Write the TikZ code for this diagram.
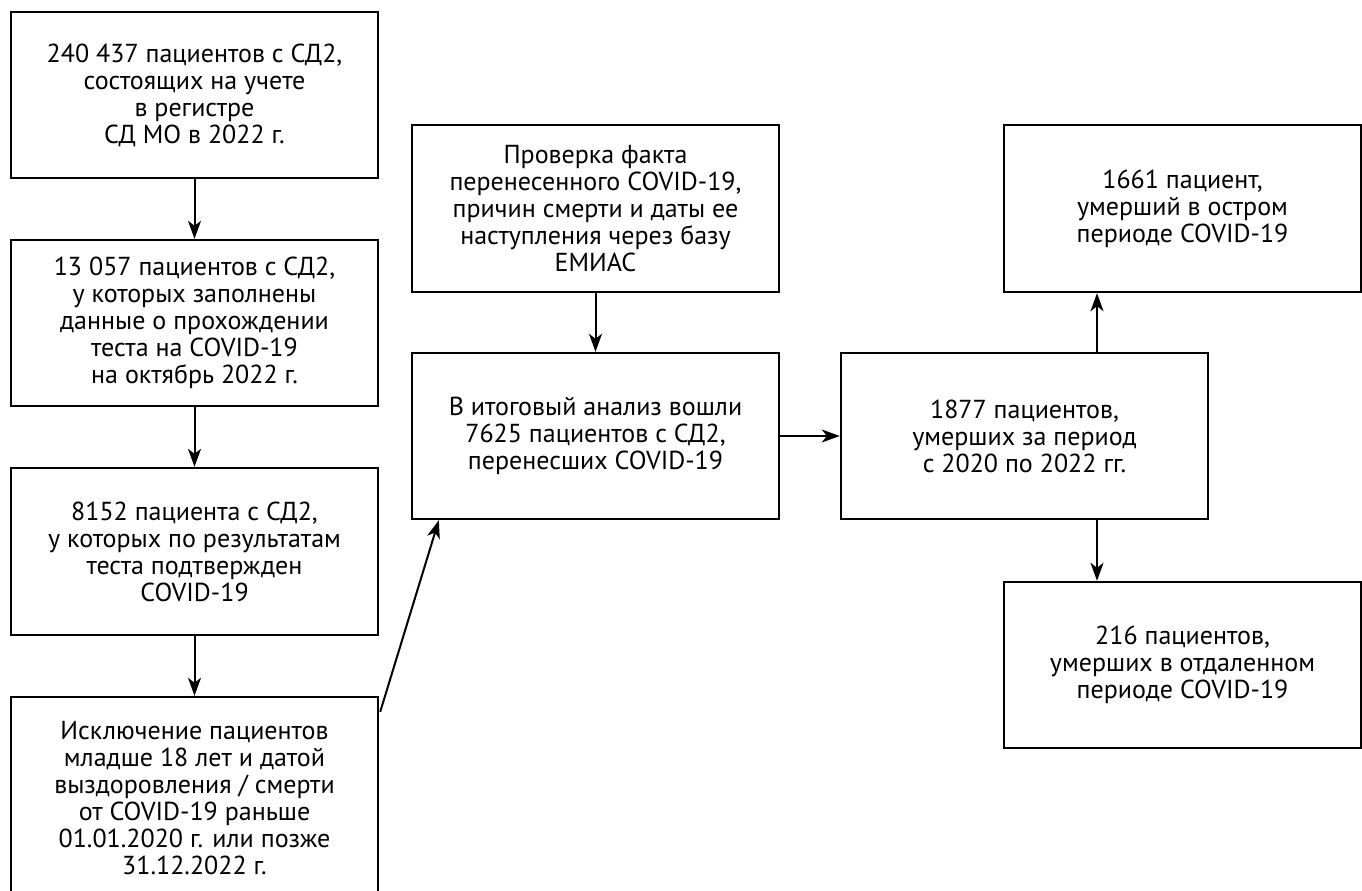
\documentclass[tikz,border=0pt]{standalone}
\usepackage{fontspec}
\setmainfont{PT Sans}
\usetikzlibrary{arrows.meta}
\begin{document}
\begin{tikzpicture}[x=1pt,y=-1pt,
  box/.style={draw, line width=2.4pt, rectangle, align=center, inner sep=0pt,
    font=\fontsize{26}{27}\selectfont},
  wbox/.style={box, minimum width=367pt},
  arr/.style={line width=2pt, -{Stealth[length=18pt,width=13pt,inset=5pt]}}]
\useasboundingbox (0,0) rectangle (1362,891);
\clip (0,0) rectangle (1362,891);
\node[wbox, minimum height=166pt] (A) at (194.5,95)
  {240 437 пациентов с СД2,\\состоящих на учете\\в регистре\\СД МО в 2022 г.};
\node[wbox, minimum height=166pt] (B) at (194.5,323)
  {13 057 пациентов с СД2,\\у которых заполнены\\данные о прохождении\\теста на COVID-19\\на октябрь 2022 г.};
\node[wbox, minimum height=167pt] (C) at (194.5,551.5)
  {8152 пациента с СД2,\\у которых по результатам\\теста подтвержден\\COVID-19};
\node[wbox, minimum height=203pt] (D) at (194.5,798.5)
  {Исключение пациентов\\младше 18 лет и датой\\выздоровления / смерти\\от COVID-19 раньше\\01.01.2020 г. или позже\\31.12.2022 г.};
\node[wbox, minimum height=167pt] (E) at (595.5,208.5)
  {Проверка факта\\перенесенного COVID-19,\\причин смерти и даты ее\\наступления через базу\\ЕМИАС};
\node[wbox, minimum height=166pt] (F) at (595.5,436)
  {В итоговый анализ вошли\\7625 пациентов с СД2,\\перенесших COVID-19};
\node[wbox, minimum height=166pt] (G) at (1024.5,436)
  {1877 пациентов,\\умерших за период\\с 2020 по 2022 гг.};
\node[box, minimum width=357pt, minimum height=167pt] (H) at (1182.5,208.5)
  {1661 пациент,\\умерший в остром\\периоде COVID-19};
\node[box, minimum width=357pt, minimum height=166pt] (I) at (1182.5,665)
  {216 пациентов,\\умерших в отдаленном\\периоде COVID-19};
\coordinate (gx) at (1097,0);
\draw[arr] (A) -- (B);
\draw[arr] (B) -- (C);
\draw[arr] (C) -- (D);
\draw[arr] (E) -- (F);
\draw[arr] (F) -- (G);
\draw[arr] (G.north -| gx) -- (H.south -| gx);
\draw[arr] (G.south -| gx) -- (I.north -| gx);
\draw[arr] ([xshift=1pt,yshift=-16pt]D.north east) -- ([xshift=28pt]F.south west);
\end{tikzpicture}
\end{document}
